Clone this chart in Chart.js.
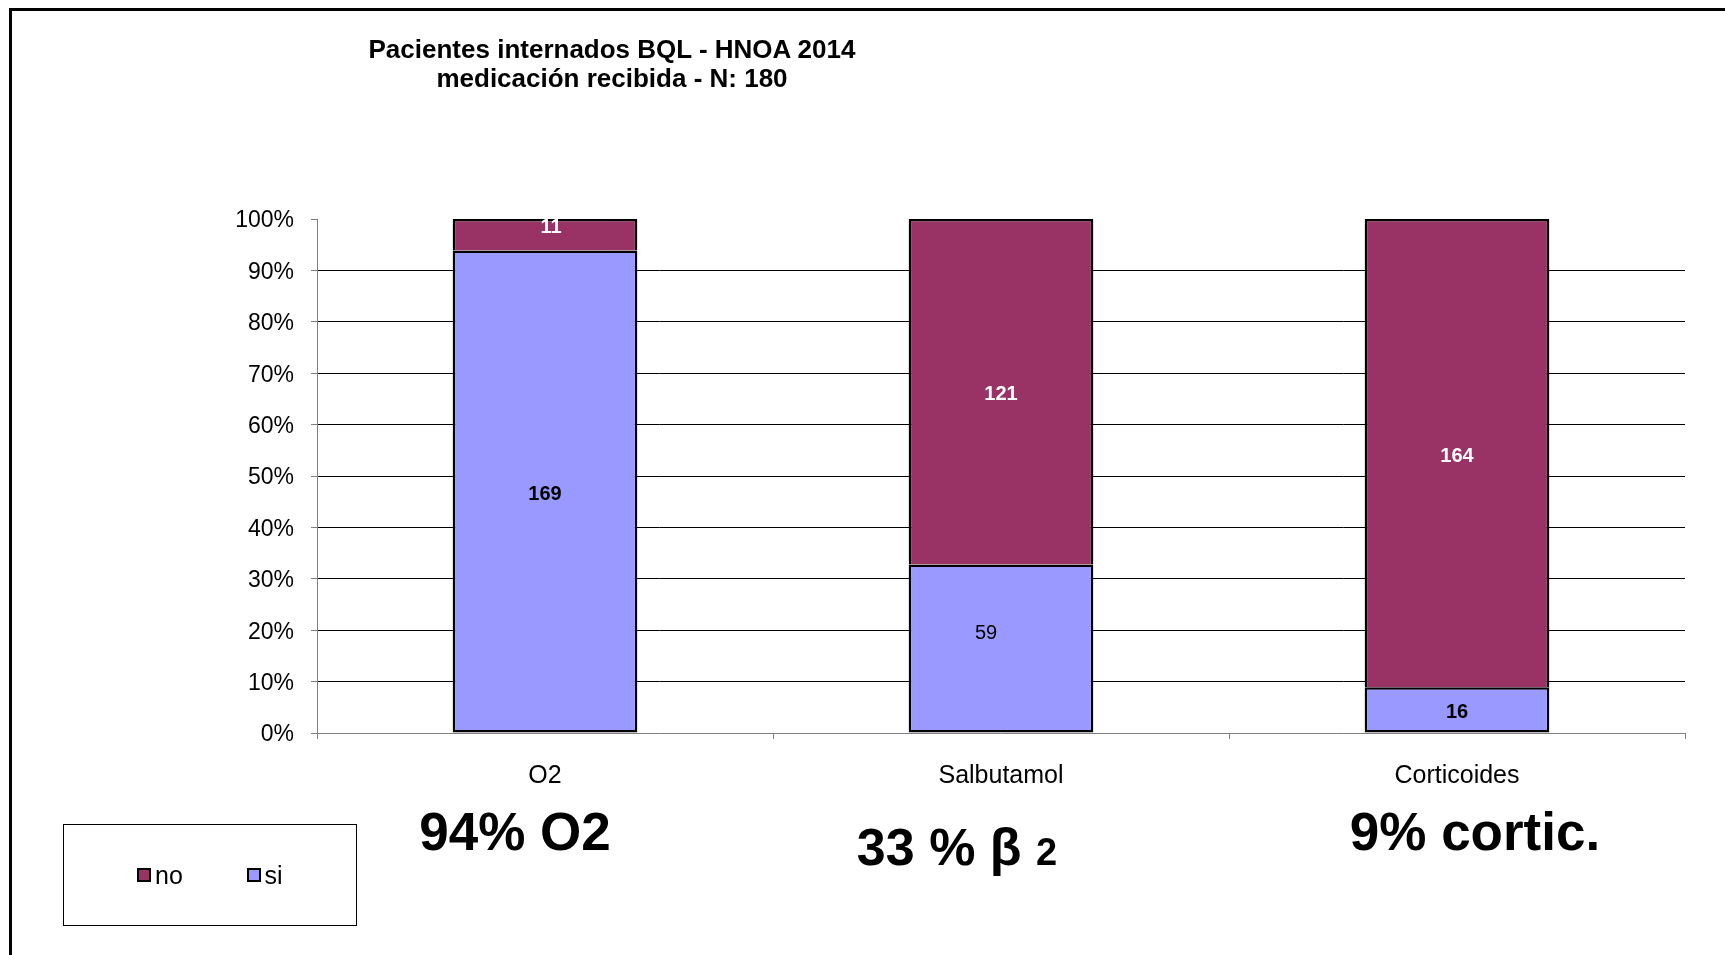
<!DOCTYPE html>
<html>
<head>
<meta charset="utf-8">
<title>Pacientes internados BQL - HNOA 2014</title>
<script src="https://cdn.jsdelivr.net/npm/chart.js@4.4.1/dist/chart.umd.min.js"></script>
<style>
  body { margin: 0; background: #fff; font-family: "Liberation Sans", Arial, sans-serif; color: #000; }
  #lienzo { position: relative; width: 1725px; height: 955px; overflow: hidden; }
  #grafico { position: absolute; left: 0; top: 0; }
  #marco { position: absolute; left: 9px; top: 8px; width: 1760px; height: 990px; border: 3px solid #000; box-sizing: border-box; }
  #titulo { position: absolute; left: 612px; top: 35px; transform: translateX(-50%); text-align: center;
            font-weight: bold; font-size: 26px; line-height: 29px; white-space: nowrap; }
  .nota { position: absolute; transform: translate(-50%, -50%); font-weight: bold; white-space: nowrap; line-height: 1; }
  #leyenda { position: absolute; left: 63px; top: 824px; width: 294px; height: 102px; border: 1.5px solid #000;
             box-sizing: border-box; display: flex; align-items: center; padding-left: 73px; }
  .item { display: flex; align-items: center; width: 119px; font-size: 25px; }
  .cuadro { width: 14px; height: 14px; border: 2px solid #000; box-sizing: border-box; margin-right: 4px; }
</style>
</head>
<body>
<div id="lienzo">
  <div id="marco"></div>
  <canvas id="grafico" width="1725" height="955"></canvas>
  <div id="titulo">Pacientes internados BQL - HNOA 2014<br>medicación recibida - N: 180</div>
  <div class="nota" style="left:515px; top:831px; font-size:53px;">94% O2</div>
  <div class="nota" style="left:957px; top:847px; font-size:52px;">33 % β <span style="font-size:38px;">2</span></div>
  <div class="nota" style="left:1475px; top:831px; font-size:53px;">9% cortic.</div>
  <div id="leyenda"></div>
</div>

<script>
// ===============================
// DATOS
// ===============================
const categorias = ["O2", "Salbutamol", "Corticoides"];
const pacientesSi = [169, 59, 16];
const pacientesNo = [11, 121, 164];

const FUENTE = '"Liberation Sans", Arial, sans-serif';

// 100% apilado: cada barra se normaliza sobre el total de la categoría
const porcentaje = (valor, i) => valor / (pacientesSi[i] + pacientesNo[i]) * 100;

// ===============================
// ETIQUETAS DENTRO DE LAS BARRAS
// ===============================
const etiquetasBarras = {
  id: "etiquetasBarras",
  afterDatasetsDraw(chart) {
    const ctx = chart.ctx;
    chart.data.datasets.forEach((ds, i) => {
      const meta = chart.getDatasetMeta(i);
      meta.data.forEach((barra, j) => {
        const p = barra.getCenterPoint();
        const d = ds.corrimiento[j];
        ctx.save();
        ctx.font = ds.pesoEtiqueta[j] + " 20px " + FUENTE;
        ctx.fillStyle = ds.colorEtiqueta;
        ctx.textAlign = "center";
        ctx.textBaseline = "middle";
        ctx.fillText(String(ds.cuentas[j]), p.x + d[0], p.y + d[1] + 3);
        ctx.restore();
      });
    });
  }
};

const grafico = new Chart(document.getElementById("grafico"), {
  type: "bar",
  data: {
    labels: categorias,
    datasets: [
      {
        label: "si",
        data: pacientesSi.map(porcentaje),
        cuentas: pacientesSi,
        backgroundColor: "#9999FF",
        colorEtiqueta: "#000",
        pesoEtiqueta: ["bold", "normal", "bold"],
        corrimiento: [[0, 0], [-15, -18], [0, 0]],
        borderColor: "#000",
        borderWidth: 2.5,
        borderSkipped: false
      },
      {
        label: "no",
        data: pacientesNo.map(porcentaje),
        cuentas: pacientesNo,
        backgroundColor: "#993366",
        colorEtiqueta: "#fff",
        pesoEtiqueta: ["bold", "bold", "bold"],
        corrimiento: [[6, -10], [0, 0], [0, 0]],
        borderColor: "#000",
        borderWidth: 2.5,
        // el borde inferior ya lo pone el tramo "si"
        borderSkipped: "start"
      }
    ]
  },
  options: {
    responsive: false,
    animation: false,
    layout: { padding: { left: 0, top: 219, right: 40, bottom: 162 } },
    datasets: { bar: { categoryPercentage: 1, barPercentage: 0.405 } },
    plugins: {
      legend: { display: false },
      title: { display: false },
      tooltip: { enabled: false }
    },
    scales: {
      x: {
        stacked: true,
        grid: { offset: true, drawOnChartArea: false, color: "#808080", tickLength: 6 },
        border: { color: "#808080", width: 1 },
        ticks: { color: "#000", font: { size: 25, family: FUENTE }, padding: 22, maxRotation: 0 },
        afterFit: s => { s.height = 60; }
      },
      y: {
        stacked: true,
        min: 0,
        max: 100,
        ticks: {
          stepSize: 10,
          color: "#000",
          padding: 17,
          labelOffset: 2,
          font: { size: 23, family: FUENTE },
          callback: v => v + "%"
        },
        grid: {
          color: c => (c.tick && c.tick.value > 0 && c.tick.value < 100) ? "#000" : "rgba(0,0,0,0)",
          tickColor: "#808080",
          tickLength: 6,
          lineWidth: 1
        },
        border: { color: "#808080", width: 1 },
        afterFit: s => { s.width = 317; }
      }
    }
  },
  plugins: [etiquetasBarras]
});

// ===============================
// LEYENDA (no arriba de si, como el apilado)
// ===============================
const leyenda = document.getElementById("leyenda");
grafico.data.datasets.slice().reverse().forEach(ds => {
  const item = document.createElement("div");
  item.className = "item";
  const cuadro = document.createElement("span");
  cuadro.className = "cuadro";
  cuadro.style.background = ds.backgroundColor;
  const texto = document.createElement("span");
  texto.textContent = ds.label;
  item.appendChild(cuadro);
  item.appendChild(texto);
  leyenda.appendChild(item);
});
</script>
</body>
</html>
